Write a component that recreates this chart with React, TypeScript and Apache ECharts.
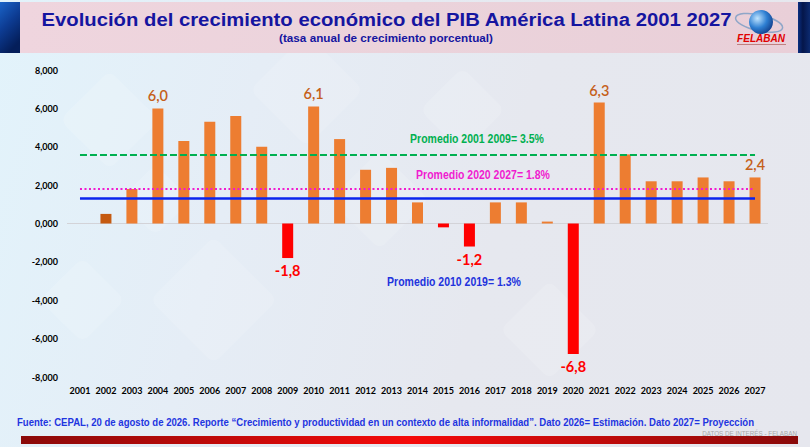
import React, { useEffect, useRef } from 'react';
import * as echarts from 'echarts';

const years = ['2001', '2002', '2003', '2004', '2005', '2006', '2007', '2008', '2009', '2010', '2011', '2012', '2013', '2014', '2015', '2016', '2017', '2018', '2019', '2020', '2021', '2022', '2023', '2024', '2025', '2026', '2027'];
const growth = [0, 0.5, 1.8, 6.0, 4.3, 5.3, 5.6, 4.0, -1.8, 6.1, 4.4, 2.8, 2.9, 1.1, -0.2, -1.2, 1.1, 1.1, 0.1, -6.8, 6.3, 3.6, 2.2, 2.2, 2.4, 2.2, 2.4];
const labeledYears = ['2004', '2009', '2010', '2016', '2020', '2021', '2027'];
const darkYears = ['2002'];
const avgValues = [3.57, 1.8, 1.33];
const avgTexts = ['Promedio 2001 2009= 3.5%', 'Promedio 2020 2027= 1.8%', 'Promedio 2010 2019= 1.3%'];
const avgColors = ['#00B050', '#F01CD0', '#0A24EE'];
const yMin = -8;
const yMax = 8;
const yStep = 2;

const TITLE = 'Evolución del crecimiento económico del PIB América Latina 2001 2027';
const SUBTITLE = '(tasa anual de crecimiento porcentual)';
const SOURCE = 'Fuente: CEPAL, 20 de agosto de 2026. Reporte \u201cCrecimiento y productividad en un contexto de alta informalidad\u201d. Dato 2026= Estimación. Dato 2027= Proyección';
const STAMP = 'DATOS DE INTERÉS - FELABAN';

const fmtLabel = (v: number) => v.toFixed(1).replace('.', ',');
const fmtAxis = (v: number) => v.toFixed(3).replace('.', ',');

function fitScale(text: string, font: string, width: number) {
  const ctx = document.createElement('canvas').getContext('2d');
  if (!ctx) return 1;
  ctx.font = font;
  const w = ctx.measureText(text).width;
  return w > 0 ? width / w : 1;
}

export default function App() {
  const ref = useRef<HTMLDivElement>(null);
  useEffect(() => {
    document.body.style.margin = '0';
    if (!ref.current) return;
    const chart = echarts.init(ref.current, null, { renderer: 'svg' });

    const barData = growth.map((v, i) => {
      const y = years[i];
      const neg = v < 0;
      const color = neg ? '#FF0000' : darkYears.includes(y) ? '#C55A11' : '#ED7D31';
      const item: any = { value: v, itemStyle: { color } };
      if (labeledYears.includes(y)) {
        item.label = {
          show: true,
          position: neg ? 'bottom' : 'top',
          distance: 5,
          formatter: () => fmtLabel(v),
          color: neg ? '#FF0000' : '#C5601A',
          fontSize: 14.5,
          fontWeight: neg ? 'bold' : 600,
          fontFamily: 'Lato, sans-serif',
        };
      }
      return item;
    });

    const nTicks = Math.round((yMax - yMin) / yStep) + 1;
    const splitColors = Array.from({ length: nTicks }, (_, i) => (yMin + i * yStep === 0 ? '#D3D3D8' : 'rgba(0,0,0,0)'));

    const lineStyles = [
      { color: avgColors[0], width: 2.2, type: [7, 3] },
      { color: avgColors[1], width: 2, type: [2, 2.5] },
      { color: avgColors[2], width: 2.6, type: 'solid' },
    ];

    const markData = avgValues.map((v, i) => [
      { coord: [years[0], v], lineStyle: lineStyles[i] },
      { coord: [years[years.length - 1], v] },
    ]);

    const sans = "'Liberation Sans', Arial, sans-serif";
    const titleFont = `bold 19px ${sans}`;
    const subFont = `bold 11.5px ${sans}`;
    const avgFont = `bold 12.5px ${sans}`;
    const srcFont = `bold 11px ${sans}`;
    const stampFont = `8px ${sans}`;
    const titleScale = fitScale(TITLE, titleFont, 691);
    const subScale = fitScale(SUBTITLE, subFont, 214);
    const avgScale = avgTexts.map((t) => fitScale(t, avgFont, 134));
    const srcScale = fitScale(SOURCE, srcFont, 738);
    const stampScale = fitScale(STAMP, stampFont, 95);

    const diamonds = [
      [60, 120, 70], [150, 300, 90], [40, 300, 60], [250, 90, 80], [330, 200, 70], [120, 200, 50], [420, 110, 60], [500, 330, 70],
    ].map(([x, y, s]) => ({
      type: 'rect', z: -10, x, y, rotation: Math.PI / 4, originX: 0, originY: 0,
      shape: { x: 0, y: 0, width: s, height: s, r: 8 },
      style: { fill: 'rgba(255,255,255,0.14)' }, silent: true,
    }));

    const option: any = {
      animation: false,
      grid: { left: 67, right: 42, top: 70, bottom: 70 },
      xAxis: {
        type: 'category',
        data: years,
        axisLine: { show: false },
        axisTick: { show: false },
        axisLabel: { interval: 0, color: '#000', fontSize: 9, fontWeight: 'bold', fontFamily: 'Lato, sans-serif', margin: 9 },
      },
      yAxis: {
        type: 'value',
        min: yMin,
        max: yMax,
        interval: yStep,
        axisLine: { show: false },
        axisTick: { show: false },
        axisLabel: { formatter: fmtAxis, color: '#000', fontSize: 9, fontWeight: 'bold', fontFamily: 'Lato, sans-serif', margin: 9 },
        splitLine: { show: true, lineStyle: { color: splitColors, width: 1.2 } },
      },
      series: [
        {
          type: 'bar',
          data: barData,
          barWidth: 11,
          label: { show: false },
          markLine: {
            silent: true,
            symbol: ['none', 'none'],
            label: { show: false },
            data: markData,
            z: 5,
          },
        },
      ],
      graphic: [
        ...diamonds,
        {
          type: 'rect', z: -5, shape: { x: 20, y: 2, width: 778, height: 51 },
          style: { fill: new echarts.graphic.LinearGradient(0, 0, 1, 0, [
            { offset: 0, color: '#EFD5DE' }, { offset: 0.5, color: '#EBD3DB' }, { offset: 1, color: '#E9CFD8' },
          ]) },
        },
        {
          type: 'rect', z: -4, shape: { x: 0, y: 2, width: 20, height: 51 },
          style: { fill: new echarts.graphic.LinearGradient(0, 0, 0.4, 1, [
            { offset: 0, color: '#1A64C8' }, { offset: 0.5, color: '#0D3C93' }, { offset: 1, color: '#041E5A' },
          ]) },
        },
        {
          type: 'rect', z: -4, shape: { x: 798, y: 2, width: 12, height: 51 },
          style: { fill: new echarts.graphic.LinearGradient(0, 0, 1, 0, [
            { offset: 0, color: '#0A2E80' }, { offset: 0.4, color: '#05164A' }, { offset: 1, color: '#0C2A70' },
          ]) },
        },
        {
          type: 'text', x: 386.5, y: 19, scaleX: titleScale,
          style: { text: TITLE, fill: '#1515A0', font: titleFont, align: 'center', verticalAlign: 'middle' },
        },
        {
          type: 'text', x: 386, y: 38, scaleX: subScale,
          style: { text: SUBTITLE, fill: '#1515A0', font: subFont, align: 'center', verticalAlign: 'middle' },
        },
        {
          type: 'ellipse', shape: { cx: 759, cy: 23, rx: 24, ry: 8 }, rotation: -0.22, originX: 759, originY: 23,
          style: { fill: 'none', stroke: '#8FA6C8', lineWidth: 1.5 },
        },
        {
          type: 'circle', shape: { cx: 761, cy: 22, r: 12 },
          style: { fill: new echarts.graphic.RadialGradient(0.35, 0.35, 0.8, [
            { offset: 0, color: '#BFE4FF' }, { offset: 0.5, color: '#2E7FD2' }, { offset: 1, color: '#0B2F7A' },
          ]) },
        },
        {
          type: 'text', x: 761, y: 38,
          style: { text: 'FELABAN', fill: '#E00000', font: `italic bold 10px ${sans}`, align: 'center', verticalAlign: 'middle' },
        },
        {
          type: 'rect', shape: { x: 737, y: 44, width: 49, height: 1 }, style: { fill: '#C08080' },
        },
        {
          type: 'text', x: 477, y: 139, scaleX: avgScale[0],
          style: { text: avgTexts[0], fill: avgColors[0], font: avgFont, align: 'center', verticalAlign: 'middle' },
        },
        {
          type: 'text', x: 483, y: 175, scaleX: avgScale[1],
          style: { text: avgTexts[1], fill: avgColors[1], font: avgFont, align: 'center', verticalAlign: 'middle' },
        },
        {
          type: 'text', x: 454, y: 282, scaleX: avgScale[2],
          style: { text: avgTexts[2], fill: '#2233DD', font: avgFont, align: 'center', verticalAlign: 'middle' },
        },
        {
          type: 'text', x: 17, y: 422, scaleX: srcScale,
          style: { text: SOURCE, fill: '#1F35E0', font: srcFont, align: 'left', verticalAlign: 'middle' },
        },
        {
          type: 'text', x: 797, y: 433, scaleX: stampScale,
          style: { text: STAMP, fill: '#A8A8A8', font: stampFont, align: 'right', verticalAlign: 'middle' },
        },
        {
          type: 'rect', shape: { x: 21, y: 436, width: 777, height: 8 },
          style: { fill: new echarts.graphic.LinearGradient(0, 0, 1, 0, [
            { offset: 0, color: '#8A0A0A' }, { offset: 0.5, color: '#F50A0A' }, { offset: 1, color: '#8A0A0A' },
          ]) },
        },
      ],
    };
    chart.setOption(option);
    return () => chart.dispose();
  }, []);

  return (
    <div
      ref={ref}
      style={{
        width: 810,
        height: 447,
        background: 'linear-gradient(105deg, #E2F3FB 0%, #E5EDF6 30%, #E6E8EF 60%, #E6E7EE 100%)',
      }}
    />
  );
}
